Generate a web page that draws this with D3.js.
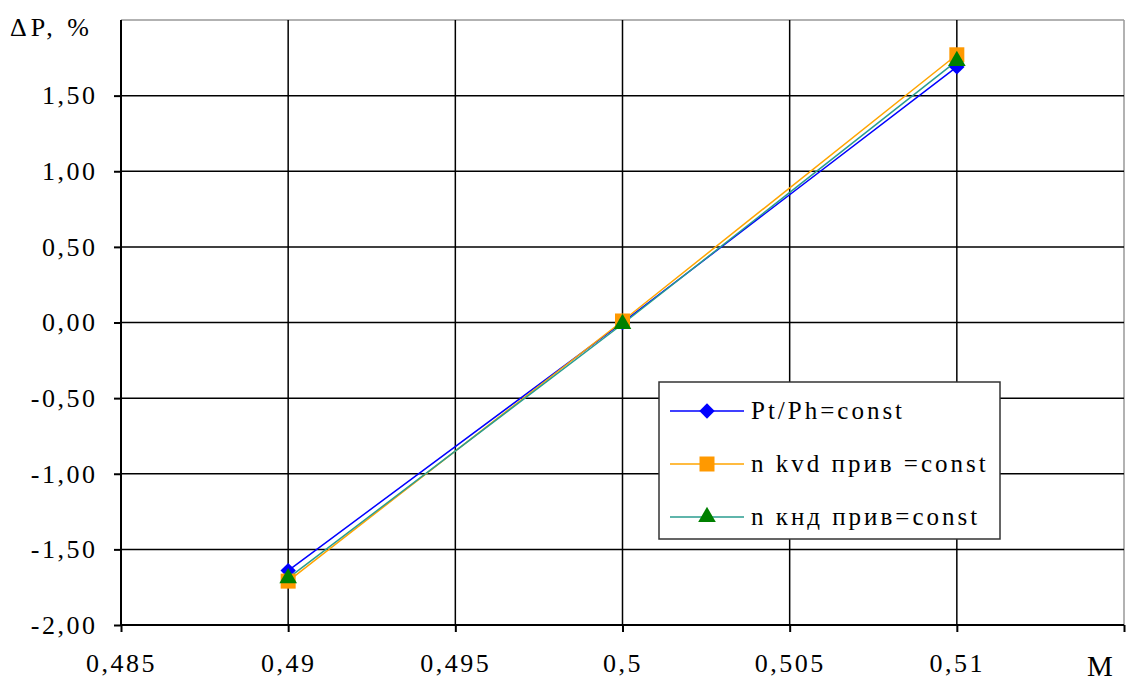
<!DOCTYPE html>
<html><head><meta charset="utf-8">
<script src="https://cdn.jsdelivr.net/npm/d3@7"></script>
<style>body{margin:0;background:#fff}svg{display:block}</style>
</head><body>
<svg id="c" width="1131" height="686"></svg>
<script>
const xValues = [0.49, 0.5, 0.51];
const seriesNames = ["Pt/Ph=const", "n kvd прив =const", "n кнд прив=const"];
const seriesPt = [-1.64, 0.0, 1.69];
const seriesKvd = [-1.71, 0.01, 1.77];
const seriesKnd = [-1.69, -0.01, 1.73];
const xTicks = [0.485, 0.49, 0.495, 0.5, 0.505, 0.51];
const xTickLabels = ["0,485", "0,49", "0,495", "0,5", "0,505", "0,51"];
const yTicks = [-2, -1.5, -1, -0.5, 0, 0.5, 1, 1.5];
const yTickLabels = ["-2,00", "-1,50", "-1,00", "-0,50", "0,00", "0,50", "1,00", "1,50"];

const FONT = "font-family:'Liberation Serif','Times New Roman','DejaVu Serif','Noto Serif',serif";
const svg = d3.select("#c");
const L = 121, R = 1124, T = 20, B = 625;
const x = d3.scaleLinear().domain([0.485, 0.515]).range([L, R]);
const y = d3.scaleLinear().domain([-2, 2]).range([B, T]);

svg.append("line").attr("x1", L).attr("x2", R).attr("y1", T).attr("y2", T).attr("stroke", "#999").attr("stroke-width", 1.5);
svg.append("line").attr("x1", R).attr("x2", R).attr("y1", T).attr("y2", B).attr("stroke", "#999").attr("stroke-width", 1.5);

svg.append("g").selectAll("line").data(yTicks.filter(d => d > -2)).join("line")
  .attr("x1", L).attr("x2", R).attr("y1", d => y(d)).attr("y2", d => y(d))
  .attr("stroke", "#000").attr("stroke-width", 1.5);
svg.append("g").selectAll("line").data(xTicks.slice(1)).join("line")
  .attr("x1", d => x(d)).attr("x2", d => x(d)).attr("y1", T).attr("y2", B)
  .attr("stroke", "#000").attr("stroke-width", 1.5);

const yAxis = d3.axisLeft(y).tickValues(yTicks).tickSize(7).tickFormat((d, i) => yTickLabels[i]).tickPadding(19);
const gy = svg.append("g").attr("transform", `translate(${L},0)`).call(yAxis);
const xAxis = d3.axisBottom(x).tickValues(xTicks.concat([0.515])).tickSize(7)
  .tickFormat((d, i) => i < xTickLabels.length ? xTickLabels[i] : "").tickPadding(22);
const gx = svg.append("g").attr("transform", `translate(0,${B})`).call(xAxis);
[gy, gx].forEach(g => {
  g.attr("font-family", null);
  g.select(".domain").attr("stroke", "#000").attr("stroke-width", 2);
  g.selectAll(".tick line").attr("stroke", "#000").attr("stroke-width", 2);
  g.selectAll("text").attr("style", FONT).attr("font-size", 26).attr("fill", "#000").attr("letter-spacing", 2.5);
});
gy.selectAll("text").attr("dx", 2.5);
gx.select(".domain").attr("d", `M${L},0H${R}`);
gy.select(".domain").attr("d", `M0,${B}V${T}`);

svg.append("text").attr("style", FONT).attr("x", 10).attr("y", 36).attr("font-size", 26).attr("letter-spacing", 4).text("ΔP, %");
svg.append("text").attr("style", FONT).attr("x", 1087).attr("y", 676).attr("font-size", 29).text("M");

const series = [
  {name: seriesNames[0], vals: seriesPt, line: "#0000ff", fill: "#0000ff", sym: d3.symbolDiamond2, size: 150},
  {name: seriesNames[1], vals: seriesKvd, line: "#ffa500", fill: "#ff9900", sym: d3.symbolSquare, size: 225},
  {name: seriesNames[2], vals: seriesKnd, line: "#2a9d8f", fill: "#008000", sym: d3.symbolTriangle, size: 135}
];
const line = d3.line().x((d, i) => x(xValues[i])).y(d => y(d));
series.forEach(s => {
  svg.append("path").datum(s.vals).attr("d", line).attr("fill", "none").attr("stroke", s.line).attr("stroke-width", 1.5);
});
series.forEach(s => {
  svg.append("g").selectAll("path").data(s.vals).join("path")
    .attr("transform", (d, i) => `translate(${x(xValues[i])},${y(d)})`)
    .attr("d", d3.symbol(s.sym, s.size)).attr("fill", s.fill);
});

const lg = svg.append("g");
lg.append("rect").attr("x", 659).attr("y", 382).attr("width", 341).attr("height", 157)
  .attr("fill", "#fff").attr("stroke", "#333").attr("stroke-width", 1.5);
series.forEach((s, i) => {
  const cy = 411 + i * 53;
  lg.append("line").attr("x1", 670).attr("x2", 744).attr("y1", cy).attr("y2", cy).attr("stroke", s.line).attr("stroke-width", 1.5);
  lg.append("path").attr("transform", `translate(707,${cy})`).attr("d", d3.symbol(s.sym, s.size)).attr("fill", s.fill);
  lg.append("text").attr("style", FONT).attr("x", 751).attr("y", cy + 8).attr("font-size", 25).attr("letter-spacing", 3).text(s.name);
});
</script>
</body></html>
